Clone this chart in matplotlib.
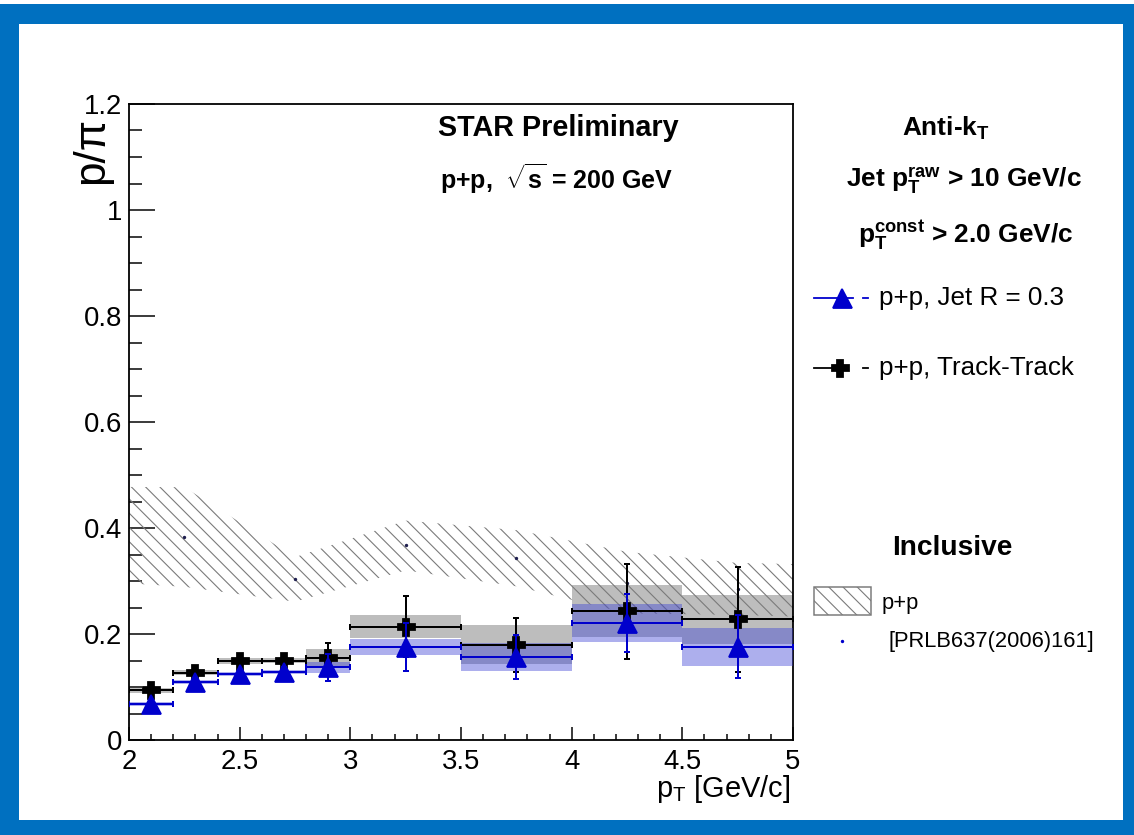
import matplotlib
matplotlib.use("Agg")
import matplotlib.pyplot as plt
from matplotlib.patches import Rectangle
from matplotlib.ticker import MultipleLocator, FuncFormatter
import numpy as np

W, H, DPI = 1134, 835, 128


def px(v):
    # pixel size -> points at the output dpi
    return v * 72.0 / DPI


plt.rcParams["font.family"] = ["Liberation Sans", "DejaVu Sans"]
plt.rcParams["mathtext.fontset"] = "custom"
plt.rcParams["mathtext.rm"] = "Liberation Sans"
plt.rcParams["mathtext.bf"] = "Liberation Sans:bold"
plt.rcParams["mathtext.it"] = "Liberation Sans:italic"
plt.rcParams["hatch.linewidth"] = px(1.1)

# bins in pT [GeV/c]
bin_lo = np.array([2.0, 2.2, 2.4, 2.6, 2.8, 3.0, 3.5, 4.0, 4.5])
bin_hi = np.array([2.2, 2.4, 2.6, 2.8, 3.0, 3.5, 4.0, 4.5, 5.0])

# p/pi, p+p track-track
tt_ratio = np.array([0.094, 0.127, 0.149, 0.150, 0.155, 0.214, 0.180, 0.243, 0.228])
tt_stat = np.array([0.008, 0.009, 0.010, 0.012, 0.028, 0.058, 0.051, 0.090, 0.099])
tt_sys = np.array([0.005, 0.005, 0.005, 0.005, 0.017, 0.021, 0.037, 0.049, 0.046])

# p/pi, p+p jet R = 0.3
jet_ratio = np.array([0.068, 0.109, 0.124, 0.128, 0.137, 0.176, 0.157, 0.221, 0.176])
jet_stat = np.array([0.006, 0.007, 0.008, 0.010, 0.026, 0.045, 0.042, 0.055, 0.059])
jet_sys = np.array([0.003, 0.004, 0.004, 0.004, 0.010, 0.015, 0.026, 0.036, 0.036])

# inclusive p+p [PRLB637(2006)161]
incl_pt = np.array([1.75, 2.25, 2.75, 3.25, 3.75, 4.25, 4.75, 5.25])
incl_ratio = np.array([0.390, 0.383, 0.303, 0.367, 0.343, 0.297, 0.285, 0.280])
incl_err = np.array([0.088, 0.094, 0.042, 0.047, 0.053, 0.058, 0.049, 0.050])

centers = (bin_lo + bin_hi) / 2
half = (bin_hi - bin_lo) / 2

BLUE = "#0000cc"
HATCH_GREY = "#7a7a7a"
HATCH = "\\\\\\"  # three backslashes -> ROOT-like line spacing

fig = plt.figure(figsize=(W / DPI, H / DPI), dpi=DPI)
fig.patch.set_facecolor("#0070c0")
fig.add_artist(Rectangle((19 / W, 15 / H), 1104 / W, 796 / H, transform=fig.transFigure,
                         facecolor="white", edgecolor="none", zorder=-10))
fig.add_artist(Rectangle((0, (H - 4) / H), 1, 4 / H, transform=fig.transFigure,
                         facecolor="white", edgecolor="none", zorder=-10))

ax = fig.add_axes([129 / W, 95 / H, 664 / W, 636 / H])
ax.set_xlim(2, 5)
ax.set_ylim(0, 1.2)

# systematic boxes and inclusive band
ax.bar(centers, 2 * tt_sys, width=2 * half, bottom=tt_ratio - tt_sys,
       color="#bdbdbd", edgecolor="none", zorder=1)
ax.fill_between(incl_pt, incl_ratio - incl_err, incl_ratio + incl_err,
                facecolor="none", edgecolor=HATCH_GREY, hatch=HATCH, linewidth=0, zorder=2)
ax.plot(incl_pt, incl_ratio, "o", ms=px(1.6), color="#202050", zorder=2)
ax.bar(centers, 2 * jet_sys, width=2 * half, bottom=jet_ratio - jet_sys,
       color="#3c41d6", alpha=0.42, edgecolor="none", zorder=3)

# stat errors and markers
ax.errorbar(centers, tt_ratio, xerr=half, yerr=tt_stat, fmt="none", ecolor="black",
            elinewidth=px(2), capsize=px(3.3), capthick=px(2), zorder=4)
ax.plot(centers, tt_ratio, "P", ms=px(17), color="black", mec="black", zorder=5)
ax.errorbar(centers, jet_ratio, xerr=half, yerr=jet_stat, fmt="none", ecolor=BLUE,
            elinewidth=px(2), capsize=px(3.3), capthick=px(2), zorder=6)
ax.plot(centers, jet_ratio, "^", ms=px(19), color=BLUE, mec=BLUE, zorder=7)

# ROOT-like frame and ticks
for s in ax.spines.values():
    s.set_linewidth(px(1.8))
ax.xaxis.set_major_locator(MultipleLocator(0.5))
ax.xaxis.set_minor_locator(MultipleLocator(0.1))
ax.yaxis.set_major_locator(MultipleLocator(0.2))
ax.yaxis.set_minor_locator(MultipleLocator(0.05))
fmt = FuncFormatter(lambda v, pos: f"{v:g}")
ax.xaxis.set_major_formatter(fmt)
ax.yaxis.set_major_formatter(fmt)
ax.tick_params(axis="both", which="both", direction="in", width=px(1.5), top=False, right=False)
ax.tick_params(axis="y", which="major", length=px(26), pad=px(7), labelsize=px(27.5))
ax.tick_params(axis="y", which="minor", length=px(13))
ax.tick_params(axis="x", which="major", length=px(13), pad=px(9), labelsize=px(27.5))
ax.tick_params(axis="x", which="minor", length=px(6.5))

# overlay for labels and the hand-placed legend (pixel coordinates)
lax = fig.add_axes([0, 0, 1, 1], zorder=10)
lax.set_xlim(0, W)
lax.set_ylim(H, 0)
lax.axis("off")

lax.text(92, 117, "p/π", rotation=90, ha="center", va="top", fontsize=px(44))
lax.text(790, 797, r"p$_{\mathrm{T}}$ [GeV/c]", ha="right", va="baseline", fontsize=px(29))

lax.text(438, 136, "STAR Preliminary", fontsize=px(28.8), fontweight="bold", va="baseline")
lax.text(440, 189, r"p+p,  $\sqrt{\mathbf{s}}$ = 200 GeV", fontsize=px(25), fontweight="bold",
         va="baseline")
lax.text(946, 136, r"Anti-k$_{\mathbf{T}}$", fontsize=px(26.3), fontweight="bold", ha="center",
         va="baseline")
lax.text(846, 188, r"Jet $\mathbf{p}_{\mathbf{T}}^{\mathbf{raw}}$ > 10 GeV/c", fontsize=px(26.3),
         fontweight="bold", va="baseline")
lax.text(858, 242, r"$\mathbf{p}_{\mathbf{T}}^{\mathbf{const}}$ > 2.0 GeV/c", fontsize=px(26.3),
         fontweight="bold", va="baseline")

lax.plot([814, 853], [298, 298], color=BLUE, lw=px(1.8))
lax.plot([842], [298], "^", ms=px(19), color=BLUE)
lax.plot([863, 868], [298, 298], color=BLUE, lw=px(1.8))
lax.text(879, 298, "p+p, Jet R = 0.3", fontsize=px(26), va="center")

lax.plot([814, 842], [368, 368], color="black", lw=px(1.8))
lax.plot([840], [368], "P", ms=px(17), color="black")
lax.plot([863, 868], [368, 368], color="black", lw=px(1.8))
lax.text(879, 368, "p+p, Track-Track", fontsize=px(26), va="center")

lax.text(952, 555, "Inclusive", fontsize=px(28.1), fontweight="bold", ha="center", va="baseline")
lax.add_patch(Rectangle((814, 587), 57, 28, facecolor="none", edgecolor=HATCH_GREY,
                        hatch=HATCH, lw=px(1.5)))
lax.text(882, 603, "p+p", fontsize=px(21.9), va="center")
lax.plot([842], [641], "o", ms=px(1.6), color=BLUE)
lax.text(888, 641, "[PRLB637(2006)161]", fontsize=px(21.9), va="center")

fig.savefig("out.png", dpi=DPI)
